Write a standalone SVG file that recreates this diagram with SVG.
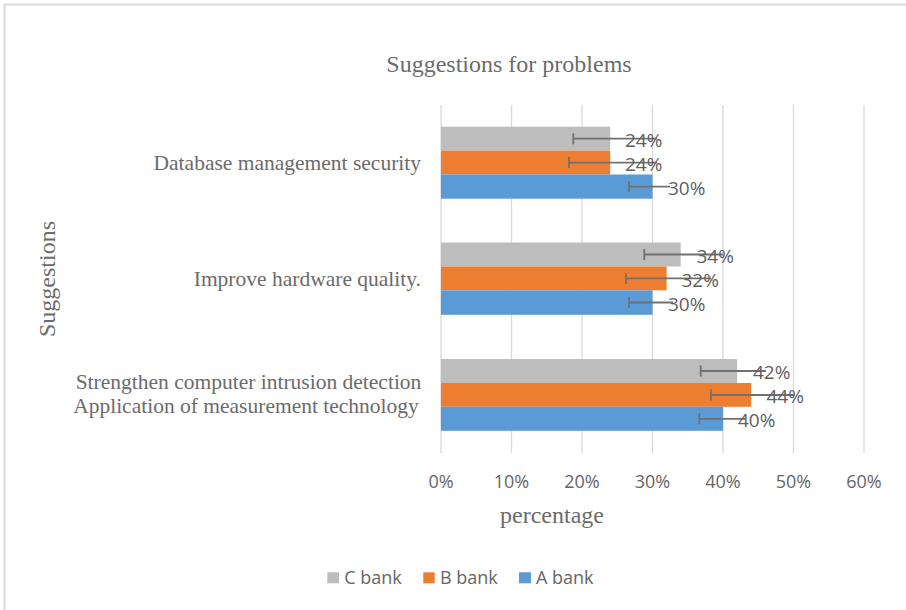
<svg xmlns="http://www.w3.org/2000/svg" width="906" height="610" viewBox="0 0 906 610">
<style>
.serif{font-family:"Liberation Serif","Times New Roman",serif;fill:#6b6b6b}
.sans{font-family:"Open Sans","Liberation Sans",sans-serif;fill:#666666;font-size:18px}
.dl{font-family:"Open Sans","Liberation Sans",sans-serif;fill:#5f5f5f;font-size:19px}
.grid{stroke:#d9d9d9;stroke-width:1.3}
.c{fill:#bdbdbd}
.b{fill:#ed7d31}
.a{fill:#5b9bd5}
.err{stroke:#707070;stroke-width:1.8;fill:none}
</style>
<rect width="906" height="610" fill="#ffffff"/>
<path d="M4.5 610 V4.5 H906" stroke="#d9d9d9" stroke-width="2" fill="none"/>
<text class="serif" x="509" y="72" font-size="24" text-anchor="middle">Suggestions for problems</text>
<g id="gridlines">
<line class="grid" x1="441" y1="105" x2="441" y2="453"/>
<line class="grid" x1="511.5" y1="105" x2="511.5" y2="453"/>
<line class="grid" x1="582" y1="105" x2="582" y2="453"/>
<line class="grid" x1="652.5" y1="105" x2="652.5" y2="453"/>
<line class="grid" x1="723" y1="105" x2="723" y2="453"/>
<line class="grid" x1="793.5" y1="105" x2="793.5" y2="453"/>
<line class="grid" x1="864" y1="105" x2="864" y2="453"/>
</g>
<g id="ticks" class="sans" text-anchor="middle">
<text x="441" y="487.5">0%</text>
<text x="511.5" y="487.5">10%</text>
<text x="582" y="487.5">20%</text>
<text x="652.5" y="487.5">30%</text>
<text x="723" y="487.5">40%</text>
<text x="793.5" y="487.5">50%</text>
<text x="864" y="487.5">60%</text>
</g>
<text class="serif" x="552" y="523" font-size="24" text-anchor="middle">percentage</text>
<text class="serif" font-size="24" text-anchor="middle" transform="translate(55 279) rotate(-90)">Suggestions</text>
<g id="cat-labels" class="serif" font-size="21.5">
<text x="421" y="170" text-anchor="end">Database management security</text>
<text x="421" y="286" text-anchor="end">Improve hardware quality.</text>
<text x="248.5" y="389" text-anchor="middle">Strengthen computer intrusion detection</text>
<text x="246" y="413" text-anchor="middle">Application of measurement technology</text>
</g>
<g id="group-database">
<rect class="c" x="441" y="126.7" width="169.2" height="24"/>
<rect class="b" x="441" y="150.7" width="169.2" height="23.8"/>
<rect class="a" x="441" y="174.5" width="211.5" height="24.2"/>
</g>
<g id="group-hardware">
<rect class="c" x="441" y="242.5" width="239.7" height="24"/>
<rect class="b" x="441" y="266.5" width="225.6" height="23.8"/>
<rect class="a" x="441" y="290.3" width="211.5" height="24.5"/>
</g>
<g id="group-intrusion">
<rect class="c" x="441" y="359" width="296.1" height="24"/>
<rect class="b" x="441" y="383" width="310.2" height="23.8"/>
<rect class="a" x="441" y="406.8" width="282" height="24"/>
</g>
<g id="error-bars" class="err">
<path d="M573.3 138.7 H657 M573.3 133.2 V144.2"/>
<path d="M569 162.6 H657 M569 157.1 V168.1"/>
<path d="M629 186.6 H670 M629 181.1 V192.1"/>
<path d="M644.3 254.5 H723 M644.3 249 V260"/>
<path d="M626 278.4 H711 M626 272.9 V283.9"/>
<path d="M629 302.5 H673 M629 297 V308"/>
<path d="M700.7 371 H766 M700.7 365.5 V376.5"/>
<path d="M711 395 H794 M711 389.5 V400.5"/>
<path d="M699.3 418.8 H745 M699.3 413.3 V424.3"/>
</g>
<g id="data-labels" class="dl">
<text x="625" y="146.9">24%</text>
<text x="625" y="170.8">24%</text>
<text x="668" y="194.8">30%</text>
<text x="696.5" y="262.7">34%</text>
<text x="681.5" y="286.6">32%</text>
<text x="668" y="310.7">30%</text>
<text x="753" y="379.2">42%</text>
<text x="766.5" y="403.2">44%</text>
<text x="738" y="427">40%</text>
</g>
<g id="legend">
<rect class="c" x="327.3" y="572.3" width="11.7" height="11"/>
<text class="sans" x="344.3" y="583.5">C bank</text>
<rect class="b" x="423.3" y="572.3" width="11.4" height="11"/>
<text class="sans" x="440" y="583.5">B bank</text>
<rect class="a" x="519" y="572.3" width="12" height="11"/>
<text class="sans" x="536" y="583.5">A bank</text>
</g>
</svg>
